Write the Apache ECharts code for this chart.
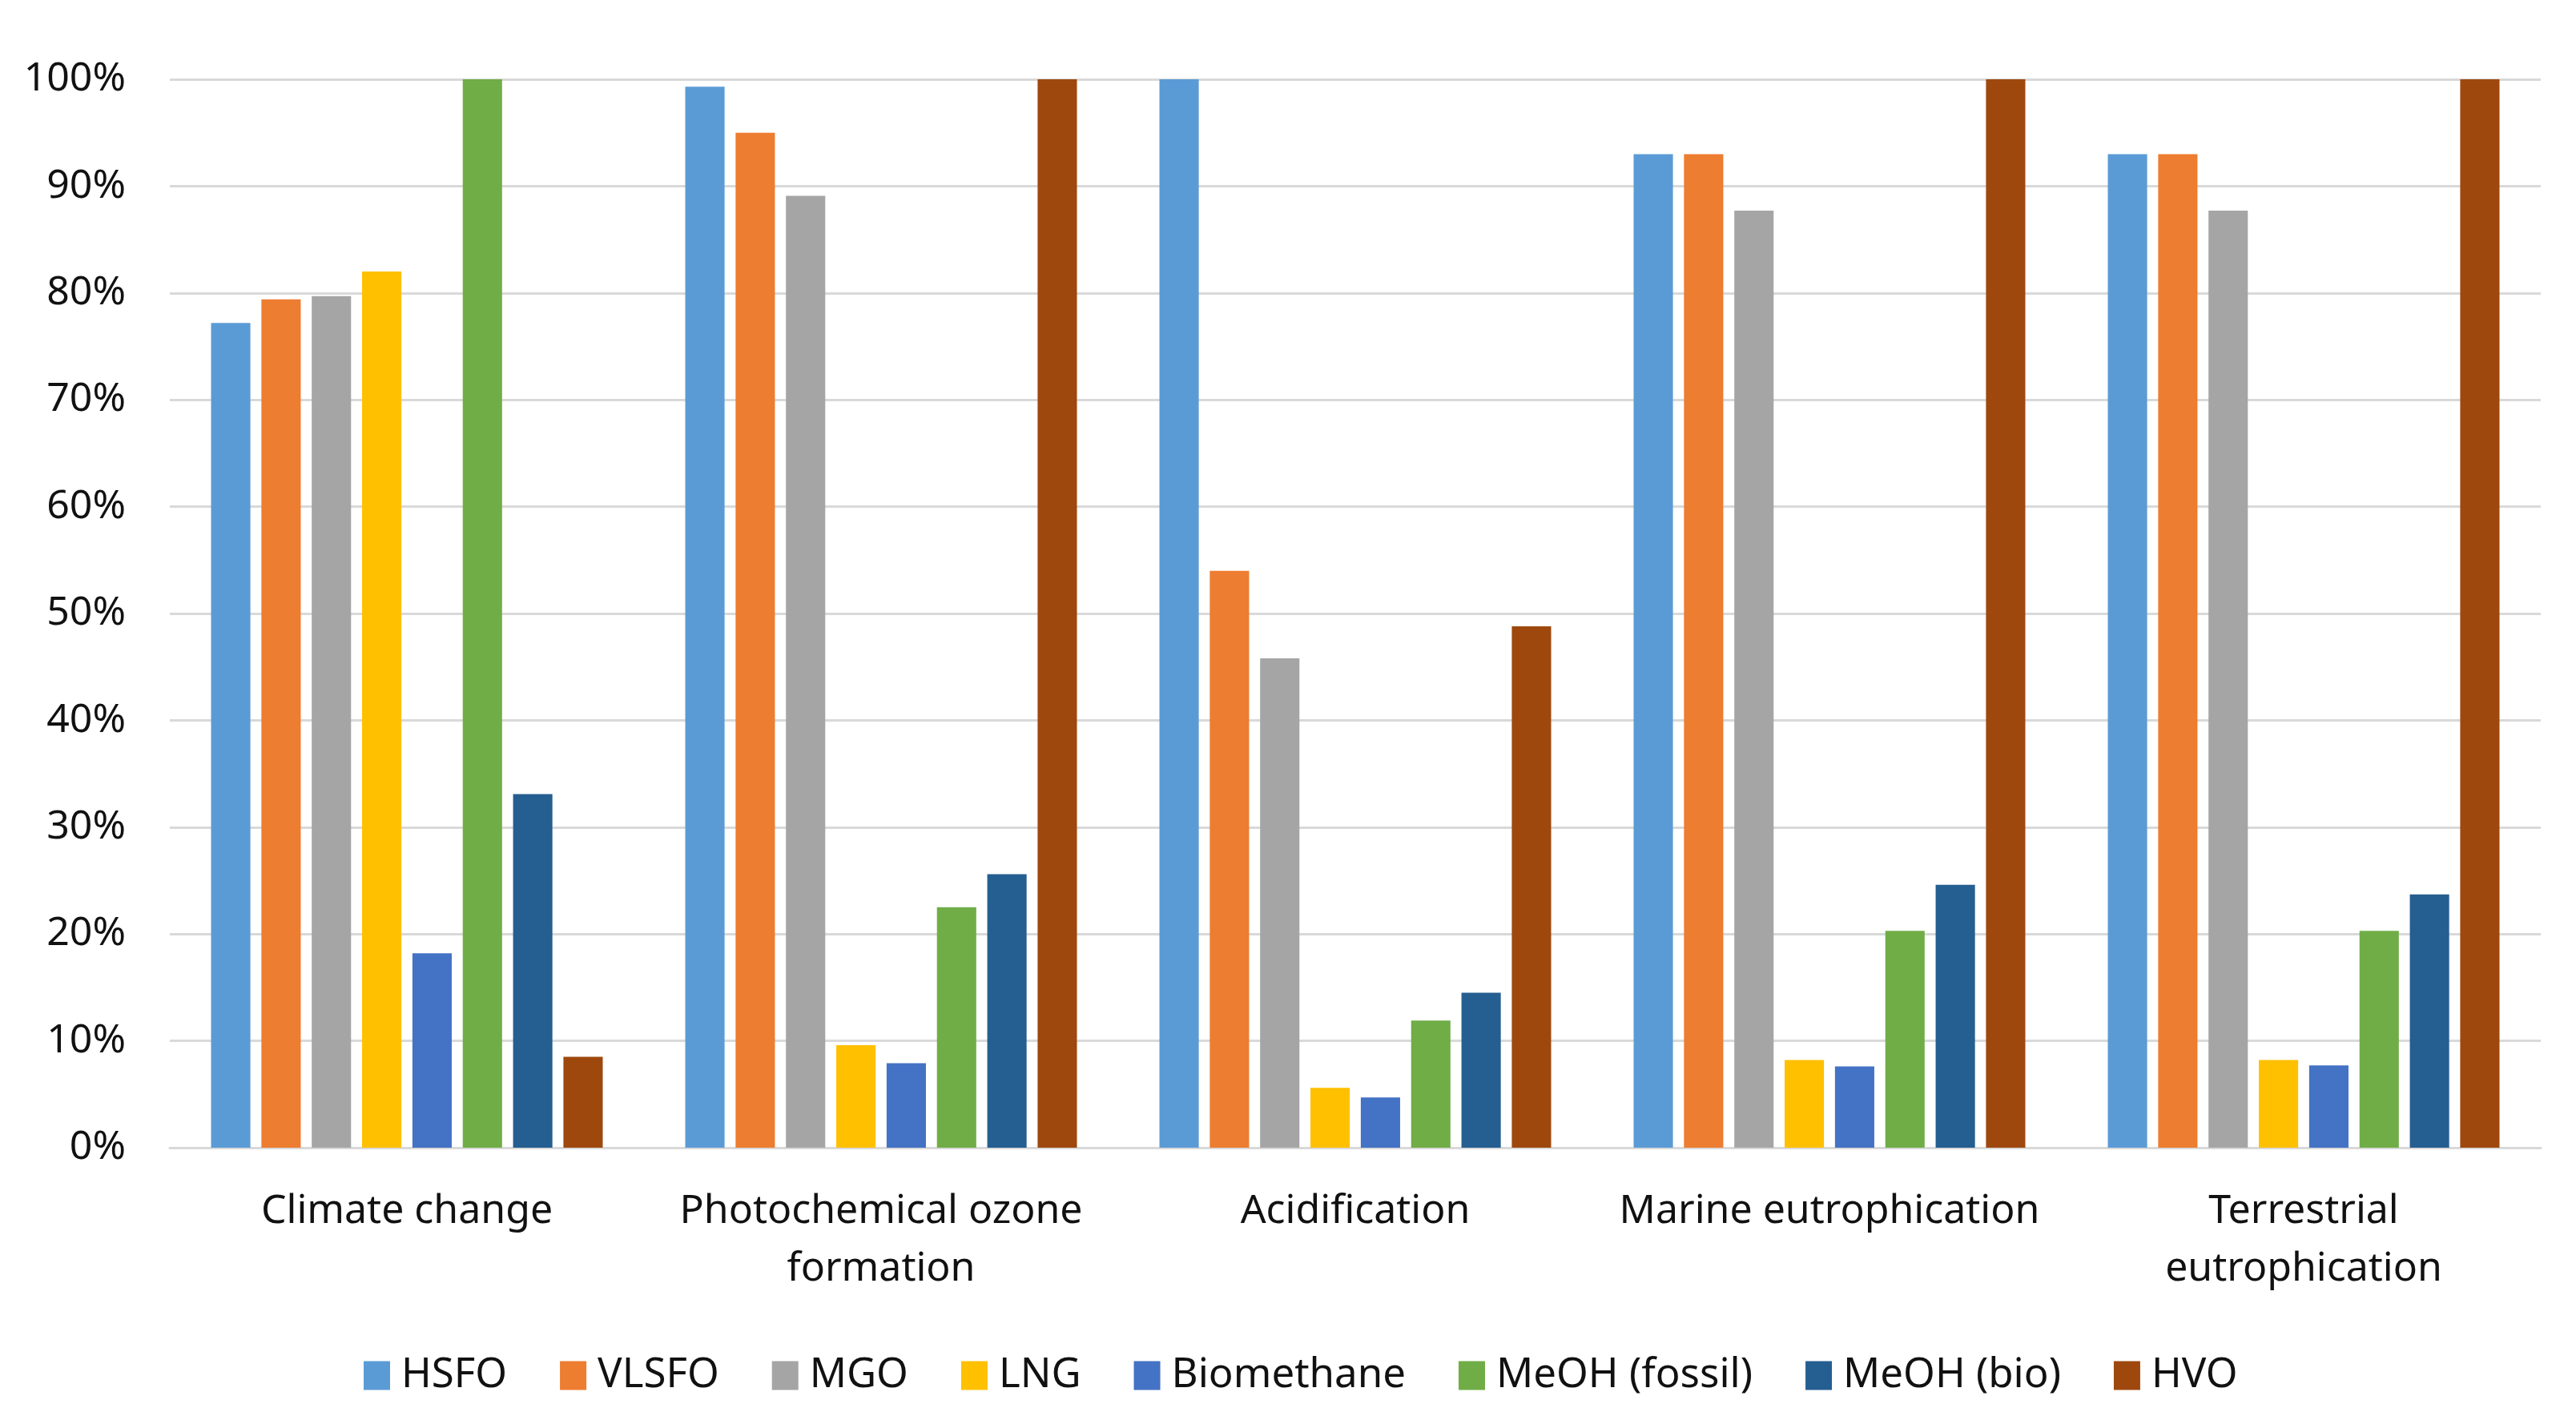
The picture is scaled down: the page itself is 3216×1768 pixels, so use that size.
<!DOCTYPE html>
<html>
<head>
<meta charset="utf-8">
<script src="https://cdn.jsdelivr.net/npm/echarts@6/dist/echarts.min.js"></script>
<style>html,body{margin:0;padding:0;background:#fff}#c{width:3216px;height:1768px}</style>
</head>
<body>
<div id="c"></div>
<script>
const categories = ['Climate change', 'Photochemical ozone\nformation', 'Acidification', 'Marine eutrophication', 'Terrestrial\neutrophication'];
const yTicks = [0, 10, 20, 30, 40, 50, 60, 70, 80, 90, 100];
const HSFO = [77.2, 99.3, 100, 93.0, 93.0];
const VLSFO = [79.4, 95.0, 54.0, 93.0, 93.0];
const MGO = [79.7, 89.1, 45.8, 87.7, 87.7];
const LNG = [82.0, 9.6, 5.6, 8.2, 8.2];
const Biomethane = [18.2, 7.9, 4.7, 7.6, 7.7];
const MeOHfossil = [100, 22.5, 11.9, 20.3, 20.3];
const MeOHbio = [33.1, 25.6, 14.5, 24.6, 23.7];
const HVO = [8.5, 100, 48.8, 100, 100];

const seriesDefs = [
  ['HSFO', HSFO, '#5B9BD5'],
  ['VLSFO', VLSFO, '#ED7D31'],
  ['MGO', MGO, '#A5A5A5'],
  ['LNG', LNG, '#FFC000'],
  ['Biomethane', Biomethane, '#4472C4'],
  ['MeOH (fossil)', MeOHfossil, '#70AD47'],
  ['MeOH (bio)', MeOHbio, '#255E91'],
  ['HVO', HVO, '#9E480E']
];
const font = '"Noto Sans", "Open Sans", sans-serif';
const txt = '#111111';
const chart = echarts.init(document.getElementById('c'));
chart.setOption({
  animation: false,
  backgroundColor: '#ffffff',
  textStyle: { fontFamily: font },
  grid: { left: 212, right: 44, top: 99, bottom: 335, containLabel: false },
  legend: {
    bottom: 20, left: 449,
    itemWidth: 33, itemHeight: 36, itemGap: 66,
    icon: 'rect',
    textStyle: { fontSize: 51, color: txt, fontFamily: font, padding: [0, 0, 0, 9] },
    data: seriesDefs.map(s => s[0])
  },
  xAxis: {
    type: 'category',
    data: categories,
    axisLine: { lineStyle: { color: '#d9d9d9', width: 3 } },
    axisTick: { show: false },
    axisLabel: { fontSize: 50, color: txt, margin: 44, lineHeight: 72, fontFamily: font, interval: 0 }
  },
  yAxis: {
    type: 'value',
    min: 0, max: 100, interval: 10,
    axisLine: { show: false },
    axisTick: { show: false },
    splitLine: { lineStyle: { color: '#d9d9d9', width: 3 } },
    axisLabel: { fontSize: 50, color: txt, margin: 55, fontFamily: font, formatter: v => yTicks.includes(v) ? v + '%' : '' }
  },
  series: seriesDefs.map(s => ({
    name: s[0], type: 'bar', data: s[1],
    itemStyle: { color: s[2] },
    barGap: '28%', barCategoryGap: '17.4%'
  }))
});
</script>
</body>
</html>
